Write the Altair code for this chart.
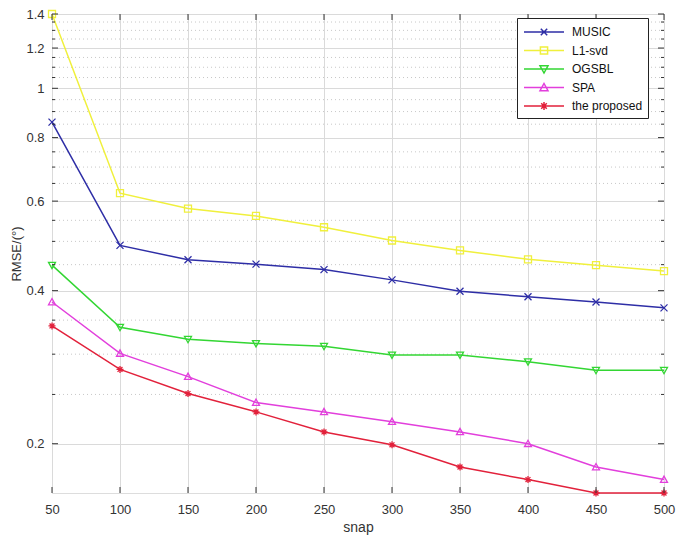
import altair as alt
import pandas as pd

# ---- data ----
snap = [50, 100, 150, 200, 250, 300, 350, 400, 450, 500]
music = [0.858, 0.491, 0.460, 0.451, 0.440, 0.420, 0.399, 0.389, 0.380, 0.370]
l1svd = [1.400, 0.622, 0.580, 0.561, 0.533, 0.502, 0.480, 0.461, 0.449, 0.437]
ogsbl = [0.449, 0.339, 0.321, 0.315, 0.311, 0.299, 0.299, 0.290, 0.279, 0.279]
spa = [0.380, 0.301, 0.271, 0.241, 0.231, 0.221, 0.211, 0.200, 0.180, 0.170]
proposed = [0.341, 0.280, 0.251, 0.231, 0.211, 0.199, 0.180, 0.170, 0.160, 0.160]

series_names = ["MUSIC", "L1-svd", "OGSBL", "SPA", "the proposed"]
series_colors = ["#2e2ea6", "#f0f03c", "#33d633", "#e23fdc", "#e2213b"]

x_ticks = [50, 100, 150, 200, 250, 300, 350, 400, 450, 500]
y_major = [0.2, 0.4, 0.6, 0.8, 1.0, 1.2, 1.4]
y_minor = [0.25, 0.3, 0.35, 0.45, 0.5, 0.55, 0.65, 0.7, 0.75, 0.85, 0.9, 0.95,
           1.05, 1.1, 1.15, 1.25, 1.3, 1.35]

# marker shapes (unit box) and legend symbols (line + marker)
marker_paths = [
    "M-1,-1L1,1M-1,1L1,-1",
    "M-1,-1H1V1H-1Z",
    "M-1,-0.8L1,-0.8L0,1Z",
    "M-1,0.8L1,0.8L0,-1Z",
    "M-1,0H1M0,-1V1M-0.7,-0.7L0.7,0.7M-0.7,0.7L0.7,-0.7",
]
legend_paths = [
    "M-2.5,0H2.5M-0.4,-0.4L0.4,0.4M-0.4,0.4L0.4,-0.4",
    "M-2.5,0H2.5M-0.45,-0.45H0.45V0.45H-0.45Z",
    "M-2.5,0H2.5M-0.5,-0.4L0.5,-0.4L0,0.5Z",
    "M-2.5,0H2.5M-0.5,0.4L0.5,0.4L0,-0.5Z",
    "M-2.5,0H2.5M-0.5,0H0.5M0,-0.5V0.5M-0.35,-0.35L0.35,0.35M-0.35,0.35L0.35,-0.35",
]

W, H = 612, 479
PAD_L, PAD_T, PAD_R, PAD_B = 44, 6, 13, 43
FONT = "Liberation Sans"

rows = []
for name, vals in zip(series_names, [music, l1svd, ogsbl, spa, proposed]):
    for s, v in zip(snap, vals):
        rows.append({"snap": s, "rmse": v, "series": name})
df = pd.DataFrame(rows)

y_scale = alt.Scale(type="log", domain=[0.16, 1.4], nice=False)
x_scale = alt.Scale(domain=[50, 500], nice=False, zero=False)
color_scale = alt.Scale(domain=series_names, range=series_colors)

df_minor = pd.DataFrame({"v": y_minor})
df_major = pd.DataFrame({"v": y_major})
df_x = pd.DataFrame({"s": x_ticks})

minor_grid = alt.Chart(df_minor).mark_rule(
    color="#c8c8c8", strokeDash=[1, 3], strokeWidth=1
).encode(y=alt.Y("v:Q", scale=y_scale, axis=None))

# inward tick marks on all four sides
left_major = alt.Chart(df_major).mark_rule(color="#333").encode(
    y=alt.Y("v:Q", scale=y_scale, axis=None), x=alt.value(0), x2=alt.value(6))
right_major = alt.Chart(df_major).mark_rule(color="#333").encode(
    y=alt.Y("v:Q", scale=y_scale, axis=None), x=alt.value(W), x2=alt.value(W - 6))
left_minor = alt.Chart(df_minor).mark_rule(color="#333").encode(
    y=alt.Y("v:Q", scale=y_scale, axis=None), x=alt.value(0), x2=alt.value(3))
right_minor = alt.Chart(df_minor).mark_rule(color="#333").encode(
    y=alt.Y("v:Q", scale=y_scale, axis=None), x=alt.value(W), x2=alt.value(W - 3))
bottom_ticks = alt.Chart(df_x).mark_rule(color="#333").encode(
    x=alt.X("s:Q", scale=x_scale, axis=None), y=alt.value(H), y2=alt.value(H - 6))
top_ticks = alt.Chart(df_x).mark_rule(color="#333").encode(
    x=alt.X("s:Q", scale=x_scale, axis=None), y=alt.value(0), y2=alt.value(6))

base = alt.Chart(df).encode(
    x=alt.X("snap:Q", scale=x_scale,
            axis=alt.Axis(values=x_ticks, grid=True, gridColor="#dadada",
                          ticks=False, domain=False, labelFontSize=13,
                          labelPadding=10, labelColor="#333", labelFont=FONT,
                          title="snap", titleFontSize=14, titleFont=FONT,
                          titleFontWeight="normal", titleColor="#333",
                          titleBaseline="alphabetic", titleY=38,
                          labelFlush=False)),
    y=alt.Y("rmse:Q", scale=y_scale,
            axis=alt.Axis(values=y_major, format="~g", grid=True,
                          gridColor="#dadada", ticks=False, domain=False,
                          labelFontSize=13, labelPadding=8, labelColor="#333",
                          labelFont=FONT, title="RMSE/(°)", titleFontSize=13,
                          titleFont=FONT, titleFontWeight="normal",
                          titleColor="#333", titleX=-36, titleY=H / 2,
                          titleAngle=270, titleBaseline="middle",
                          titleAlign="center", labelFlush=False)),
)

lines = base.mark_line(strokeWidth=1.5).encode(
    color=alt.Color("series:N", scale=color_scale, legend=None))

points = alt.Chart(df).mark_point(filled=False, strokeWidth=1.3, size=49, opacity=1).encode(
    x=alt.X("snap:Q", scale=x_scale, axis=None),
    y=alt.Y("rmse:Q", scale=y_scale, axis=None),
    color=alt.Color("series:N", scale=color_scale, legend=None),
    shape=alt.Shape("series:N", scale=alt.Scale(domain=series_names, range=marker_paths),
                    legend=None),
)

legend_layer = alt.Chart(df).transform_filter("datum.snap < 0").mark_point(
    filled=False, opacity=1
).encode(
    x=alt.X("snap:Q", scale=x_scale, axis=None),
    y=alt.Y("rmse:Q", scale=y_scale, axis=None),
    color=alt.Color("series:N", scale=color_scale,
                    legend=alt.Legend(title=None, orient="none", legendX=465, legendY=4,
                                      padding=5, strokeColor="#222", fillColor="white",
                                      labelFont=FONT, labelFontSize=12, labelColor="#111",
                                      symbolSize=256, symbolStrokeWidth=1.5,
                                      symbolOffset=13, labelOffset=19, rowPadding=2.5,
                                      symbolOpacity=1)),
    shape=alt.Shape("series:N", scale=alt.Scale(domain=series_names, range=legend_paths)),
)

chart = alt.layer(
    minor_grid, lines, points, left_major, right_major, left_minor, right_minor,
    bottom_ticks, top_ticks, legend_layer
).resolve_scale(color="independent", shape="independent").resolve_axis(
    x="independent", y="independent"
).properties(
    width=W, height=H,
    autosize=alt.AutoSizeParams(type="none"),
    padding={"left": PAD_L, "top": PAD_T, "right": PAD_R, "bottom": PAD_B},
).configure_view(stroke="#333", strokeWidth=1).configure(background="white")

chart.save("out.html", embed_options={"renderer": "svg", "actions": False})
